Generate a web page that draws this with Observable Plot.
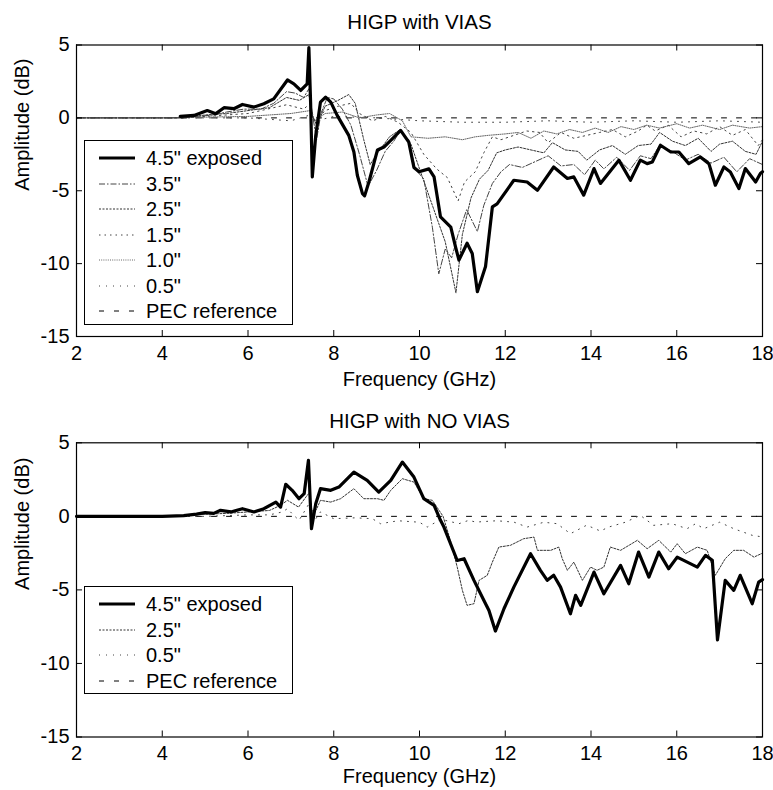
<!DOCTYPE html>
<html><head><meta charset="utf-8">
<script src="https://cdn.jsdelivr.net/npm/d3@7"></script>
<script src="https://cdn.jsdelivr.net/npm/@observablehq/plot@0.6"></script>
<style>
body{margin:0;background:#fff;font-family:"Liberation Sans",Arial,sans-serif}
#wrap{position:relative;width:773px;height:790px;overflow:hidden}
#wrap svg{display:block}
.legend{position:absolute;border:1px solid #000;background:#fff;box-sizing:border-box;font-size:20px;color:#000}
.legend .row{position:absolute;left:0;height:24px;width:100%}
.legend .row svg{position:absolute;left:12px;top:7px}
.legend .row span{position:absolute;left:61px;top:0;line-height:24px;white-space:nowrap}
</style></head><body><div id="wrap"></div>
<script>
// ---------- tick values ----------
const xTicks = [2, 4, 6, 8, 10, 12, 14, 16, 18];
const yTicks = [5, 0, -5, -10, -15];

// ---------- HIGP with VIAS ----------
const viasF45 = [4.42, 4.74, 5.05, 5.25, 5.44, 5.67, 5.87, 6.14, 6.37, 6.6, 6.92, 7.07, 7.23, 7.38, 7.42, 7.46, 7.5, 7.58, 7.69, 7.81, 7.93, 8.08, 8.35, 8.47, 8.55, 8.67, 8.72, 8.82, 9.02, 9.17, 9.33, 9.56, 9.75, 9.87, 9.99, 10.22, 10.34, 10.49, 10.73, 10.84, 10.92, 11.11, 11.23, 11.35, 11.54, 11.7, 11.81, 12.2, 12.51, 12.75, 13.13, 13.45, 13.6, 13.83, 14.07, 14.22, 14.65, 14.92, 15.15, 15.31, 15.43, 15.62, 15.86, 16.05, 16.28, 16.55, 16.75, 16.9, 17.1, 17.25, 17.45, 17.6, 17.84, 17.95, 18];
const viasA45 = [0.1, 0.17, 0.5, 0.29, 0.7, 0.63, 0.92, 0.74, 0.97, 1.3, 2.6, 2.34, 1.88, 2.34, 4.82, 1.08, -4.05, -1.2, 1.08, 1.42, 1.08, 0.17, -1.2, -2.34, -3.94, -5.2, -5.35, -4.4, -2.2, -2.0, -1.54, -0.86, -1.66, -3.4, -3.7, -3.5, -4.05, -6.8, -7.5, -8.85, -9.76, -8.6, -9.3, -11.93, -10.2, -6.1, -5.9, -4.28, -4.4, -4.97, -3.37, -4.16, -4.05, -5.3, -3.48, -4.5, -2.9, -4.28, -2.9, -3.14, -3.03, -1.88, -2.34, -2.34, -3.14, -2.68, -3.14, -4.62, -3.37, -3.71, -4.85, -3.48, -4.4, -3.82, -3.7];

const viasF35 = [2, 4, 4.5, 4.8, 5.2, 5.5, 5.9, 6.3, 6.6, 6.9, 7.1, 7.3, 7.42, 7.5, 7.6, 7.7, 7.85, 8.0, 8.2, 8.4, 8.6, 8.8, 9.0, 9.2, 9.4, 9.55, 9.75, 9.9, 10.1, 10.3, 10.45, 10.6, 10.75, 10.9, 11.1, 11.35, 11.5, 11.7, 11.9, 12.1, 12.4, 12.7, 13.0, 13.3, 13.6, 13.85, 14.1, 14.3, 14.6, 14.9, 15.15, 15.4, 15.6, 15.9, 16.2, 16.5, 16.8, 17.1, 17.4, 17.7, 18];
const viasA35 = [0, 0, 0, 0.1, 0.2, 0.4, 0.6, 0.6, 1.0, 1.8, 1.7, 1.4, 2.0, 0.3, -1.5, 0.3, 1.4, 1.3, 0.6, -0.5, -2.5, -4.7, -3.6, -2.3, -1.6, -0.9, -1.5, -3.5, -4.2, -7.5, -10.7, -9.0, -9.6, -8.0, -6.3, -7.8, -6.0, -4.5, -3.7, -3.2, -3.4, -3.0, -2.6, -3.3, -3.2, -3.9, -2.9, -3.5, -2.7, -3.6, -2.6, -2.8, -1.9, -2.3, -2.9, -2.5, -3.1, -2.7, -3.7, -2.8, -3.2];

const viasF25 = [2, 4, 4.5, 5.0, 5.5, 6.0, 6.5, 6.9, 7.2, 7.42, 7.5, 7.6, 7.8, 8.1, 8.35, 8.5, 8.7, 8.85, 9.0, 9.3, 9.55, 9.8, 10.0, 10.3, 10.6, 10.85, 11.0, 11.2, 11.4, 11.6, 11.8, 12.0, 12.3, 12.6, 12.9, 13.1, 13.4, 13.7, 13.9, 14.2, 14.5, 14.8, 15.1, 15.4, 15.6, 15.9, 16.2, 16.5, 16.8, 17.0, 17.3, 17.6, 17.85, 18];
const viasA25 = [0, 0, 0, 0.2, 0.3, 0.5, 0.7, 1.4, 1.2, 1.6, 0.2, -0.5, 0.8, 1.2, 1.6, 1.0, -1.5, -3.2, -2.5, -1.3, -0.8, -1.8, -3.5, -6.0, -8.5, -12.0, -8.0, -5.5, -4.2, -3.6, -2.4, -2.2, -2.0, -2.2, -2.4, -1.7, -2.2, -2.3, -2.9, -2.2, -1.9, -2.5, -1.9, -1.8, -1.0, -1.6, -1.9, -1.4, -2.3, -1.8, -1.6, -2.3, -2.5, -1.6];

const viasF15 = [2, 4, 4.5, 5, 6, 6.9, 7.3, 7.45, 7.55, 7.8, 8.1, 8.4, 8.6, 8.9, 9.2, 9.5, 9.8, 10.1, 10.4, 10.65, 10.9, 11.05, 11.3, 11.5, 11.7, 11.9, 12.2, 12.5, 12.8, 13.0, 13.3, 13.6, 13.9, 14.2, 14.5, 14.8, 15.1, 15.3, 15.5, 15.8, 16.1, 16.4, 16.7, 17.0, 17.3, 17.6, 17.9, 18];
const viasA15 = [0, 0, 0, 0.1, 0.3, 0.9, 0.6, 1.0, -0.3, 0.5, 0.8, 1.0, 0.3, -0.2, 0.1, -0.3, -1.0, -2.5, -3.5, -4.1, -5.7, -4.4, -3.7, -2.4, -1.3, -1.5, -1.2, -0.9, -1.0, -1.7, -1.0, -1.4, -1.2, -1.0, -0.8, -1.3, -0.9, -0.5, -0.9, -0.5, -1.3, -0.9, -1.1, -0.6, -1.2, -0.8, -1.9, -1.5];

const viasF10 = [2, 4, 6, 7, 7.45, 7.55, 7.8, 8.2, 8.6, 9.0, 9.3, 9.6, 9.8, 10.2, 10.6, 11.0, 11.3, 11.6, 12.0, 12.3, 12.6, 12.9, 13.2, 13.5, 13.8, 14.1, 14.4, 14.7, 15.0, 15.3, 15.6, 16.0, 16.3, 16.6, 17.0, 17.3, 17.7, 18];
const viasA10 = [0, 0, 0.1, 0.3, 0.5, -0.2, 0.3, 0.4, 0.0, 0.2, 0.3, -0.2, -1.3, -1.4, -1.3, -1.5, -1.3, -1.2, -1.1, -1.0, -1.4, -0.9, -1.1, -0.8, -1.0, -0.7, -1.0, -0.6, -0.8, -0.5, -0.7, -0.4, -0.7, -0.5, -0.8, -0.5, -0.7, -0.6];

const viasF05 = [2, 4, 6, 6.5, 7.0, 7.45, 7.6, 8.0, 9.0, 10, 11, 12, 13, 14, 15, 16, 17, 18];
const viasA05 = [0, 0, 0, -0.1, -0.2, 0.2, -0.2, 0.1, 0, -0.2, -0.3, -0.3, -0.2, -0.3, -0.2, -0.3, -0.2, -0.3];

const pecF = [2, 18];
const pecA = [0, 0];

// ---------- HIGP with NO VIAS ----------
const noViasF45 = [2, 3, 4, 4.5, 4.8, 5.0, 5.2, 5.36, 5.6, 5.87, 6.14, 6.37, 6.65, 6.76, 6.88, 7.03, 7.19, 7.31, 7.41, 7.48, 7.58, 7.69, 7.93, 8.12, 8.47, 8.78, 9.05, 9.33, 9.6, 9.87, 10.1, 10.34, 10.49, 10.57, 10.88, 11.04, 11.27, 11.5, 11.62, 11.77, 11.97, 12.2, 12.59, 12.82, 12.98, 13.13, 13.29, 13.52, 13.64, 13.76, 14.07, 14.3, 14.69, 14.88, 15.11, 15.35, 15.58, 15.81, 16.01, 16.48, 16.67, 16.83, 16.95, 17.13, 17.33, 17.48, 17.76, 17.91, 18];
const noViasA45 = [0, 0, 0, 0.05, 0.15, 0.25, 0.2, 0.41, 0.3, 0.52, 0.3, 0.52, 0.97, 0.63, 2.18, 1.77, 1.2, 1.54, 3.81, -0.84, 0.86, 1.88, 1.77, 1.99, 3.01, 2.45, 1.65, 2.45, 3.69, 2.67, 1.2, 0.75, -0.27, -0.73, -3.0, -2.88, -4.35, -5.7, -6.4, -7.8, -6.28, -4.81, -2.54, -3.67, -4.35, -4.0, -4.81, -6.62, -5.37, -6.05, -3.79, -5.26, -3.33, -4.58, -2.43, -4.13, -2.43, -3.56, -2.77, -3.45, -2.65, -2.99, -8.4, -4.35, -5.03, -4.01, -5.94, -4.47, -4.3];

const noViasF25 = [2, 4, 4.5, 5, 5.5, 6, 6.5, 6.76, 6.92, 7.18, 7.35, 7.43, 7.5, 7.6, 7.69, 7.93, 8.16, 8.47, 8.7, 9.02, 9.17, 9.33, 9.6, 9.87, 10.1, 10.3, 10.55, 10.72, 10.88, 11.0, 11.11, 11.27, 11.39, 11.58, 11.7, 11.85, 12.12, 12.43, 12.67, 12.75, 13.06, 13.25, 13.33, 13.45, 13.6, 13.8, 13.99, 14.14, 14.3, 14.45, 14.69, 15.08, 15.31, 15.58, 15.86, 16.01, 16.2, 16.48, 16.71, 16.9, 17.13, 17.33, 17.56, 17.8, 18];
const noViasA25 = [0, 0, 0.05, 0.15, 0.2, 0.3, 0.4, 0.75, 1.09, 0.63, 1.31, 1.6, 0.2, 0.5, 1.09, 0.97, 1.2, 1.88, 1.2, 1.2, 1.09, 1.77, 2.56, 2.33, 1.2, 1.09, 0.0, -1.63, -3.45, -5.03, -6.05, -5.94, -4.35, -4.01, -3.11, -2.09, -1.97, -1.52, -1.41, -2.31, -2.31, -2.09, -2.88, -3.67, -3.11, -4.35, -3.45, -3.67, -3.45, -2.09, -2.31, -1.63, -2.2, -1.63, -2.43, -1.86, -2.54, -2.09, -2.31, -4.01, -2.88, -2.31, -2.31, -2.77, -2.5];

const noViasF05 = [2, 4, 5, 6, 6.5, 6.8, 6.92, 7.03, 7.19, 7.35, 7.45, 7.55, 7.69, 8.0, 8.5, 8.9, 9.09, 9.5, 10.0, 10.18, 10.5, 10.92, 11.15, 11.31, 11.8, 12.2, 12.51, 12.9, 13.21, 13.52, 13.9, 14.22, 14.41, 14.8, 15.15, 15.46, 15.89, 16.24, 16.44, 16.63, 17.0, 17.33, 17.76, 18];
const noViasA05 = [0, 0, 0, 0.1, 0.1, 0.3, 0.52, 0.18, -0.27, 0.5, 1.0, -0.3, 0.3, -0.16, -0.1, -0.16, -0.5, -0.3, -0.4, -0.73, -0.2, -0.5, -0.27, -0.39, -0.3, -0.39, -0.73, -0.4, -0.5, -1.18, -0.6, -1.0, -0.73, -0.4, 0.07, -0.61, -0.5, -0.84, -0.5, -0.84, -0.4, -0.84, -1.29, -1.4];

// ---------- series labels ----------
const viasLabels = ['4.5" exposed', '3.5"', '2.5"', '1.5"', '1.0"', '0.5"', 'PEC reference'];
const noViasLabels = ['4.5" exposed', '2.5"', '0.5"', 'PEC reference'];

// ---------- styles (by label) ----------
const styleOf = {
  '4.5" exposed': {stroke: "#000", strokeWidth: 3.2, dash: null},
  '3.5"': {stroke: "#444", strokeWidth: 1, dash: "6,2,1.5,2"},
  '2.5"': {stroke: "#333", strokeWidth: 1, dash: "2,1.5"},
  '1.5"': {stroke: "#444", strokeWidth: 1, dash: "1.5,4"},
  '1.0"': {stroke: "#666", strokeWidth: 1, dash: "1,1.2"},
  '0.5"': {stroke: "#444", strokeWidth: 1, dash: "1,6"},
  'PEC reference': {stroke: "#000", strokeWidth: 1, dash: "5,10"}
};

const rows = (f, a) => f.map((x, i) => ({f: x, a: a[i]}));

const viasSeries = [
  ['PEC reference', rows(pecF, pecA)],
  ['0.5"', rows(viasF05, viasA05)],
  ['1.0"', rows(viasF10, viasA10)],
  ['1.5"', rows(viasF15, viasA15)],
  ['2.5"', rows(viasF25, viasA25)],
  ['3.5"', rows(viasF35, viasA35)],
  ['4.5" exposed', rows(viasF45, viasA45)]
];
const noViasSeries = [
  ['PEC reference', rows(pecF, pecA)],
  ['0.5"', rows(noViasF05, noViasA05)],
  ['2.5"', rows(noViasF25, noViasA25)],
  ['4.5" exposed', rows(noViasF45, noViasA45)]
];

const W = 773, H = 395, ML = 76, MR = 11;
const FS = 20;

function panel(series, title, mt, mb, titleDy, xlabDy) {
  const fh = H - mt - mb, fw = W - ML - MR;
  const marks = [];
  for (const [name, data] of series) {
    const s = styleOf[name];
    marks.push(Plot.line(data, {x: "f", y: "a", stroke: s.stroke, strokeWidth: s.strokeWidth,
      strokeDasharray: s.dash || undefined, strokeLinejoin: "round"}));
  }
  marks.push(
    Plot.frame({stroke: "#000", strokeWidth: 1.2}),
    Plot.tickX(xTicks, {x: d => d, insetTop: fh - 6, stroke: "#000"}),
    Plot.tickX(xTicks, {x: d => d, insetBottom: fh - 6, stroke: "#000"}),
    Plot.tickY(yTicks, {y: d => d, insetRight: fw - 6, stroke: "#000"}),
    Plot.tickY(yTicks, {y: d => d, insetLeft: fw - 6, stroke: "#000"}),
    Plot.text(xTicks, {x: d => d, frameAnchor: "bottom", dy: 17, lineAnchor: "middle", text: d => String(d), fontSize: FS}),
    Plot.text(yTicks, {y: d => d, frameAnchor: "left", dx: -7, textAnchor: "end", lineAnchor: "middle", text: d => String(d), fontSize: FS}),
    Plot.text([title], {frameAnchor: "top", dy: titleDy, lineAnchor: "middle", text: d => d, fontSize: 20.5}),
    Plot.text(["Frequency (GHz)"], {frameAnchor: "bottom", dy: xlabDy, lineAnchor: "middle", text: d => d, fontSize: FS}),
    Plot.text(["Amplitude (dB)"], {frameAnchor: "left", dx: -54, rotate: -90, lineAnchor: "middle", text: d => d, fontSize: FS})
  );
  return Plot.plot({
    width: W, height: H, marginTop: mt, marginBottom: mb, marginLeft: ML, marginRight: MR,
    x: {domain: [2, 18], axis: null},
    y: {domain: [-15, 5], axis: null},
    style: {fontFamily: '"Liberation Sans", Arial, sans-serif', background: "white", overflow: "visible", color: "#000"},
    marks
  });
}

function legend(labels, left, top, width, height, firstDy, step) {
  const div = document.createElement("div");
  div.className = "legend";
  Object.assign(div.style, {left: left + "px", top: top + "px", width: width + "px", height: height + "px"});
  labels.forEach((lab, i) => {
    const s = styleOf[lab];
    const row = document.createElement("div");
    row.className = "row";
    row.style.top = (firstDy + i * step - 12) + "px";
    const svg = d3.create("svg").attr("width", 40).attr("height", 10);
    svg.append("line").attr("x1", 2).attr("x2", 38).attr("y1", 5).attr("y2", 5)
      .attr("stroke", s.stroke).attr("stroke-width", s.strokeWidth)
      .attr("stroke-dasharray", s.dash);
    row.appendChild(svg.node());
    const sp = document.createElement("span");
    sp.textContent = lab;
    row.appendChild(sp);
    div.appendChild(row);
  });
  return div;
}

const wrap = document.getElementById("wrap");
wrap.appendChild(panel(viasSeries, "HIGP with VIAS", 44.5, 59, -23, 43));
wrap.appendChild(panel(noViasSeries, "HIGP with NO VIAS", 47.3, 53.5, -21, 40));
wrap.appendChild(legend(viasLabels, 84, 140, 209, 185, 17, 25.5));
wrap.appendChild(legend(noViasLabels, 84, 586, 209, 108, 17, 25.5));
</script>
</body></html>
